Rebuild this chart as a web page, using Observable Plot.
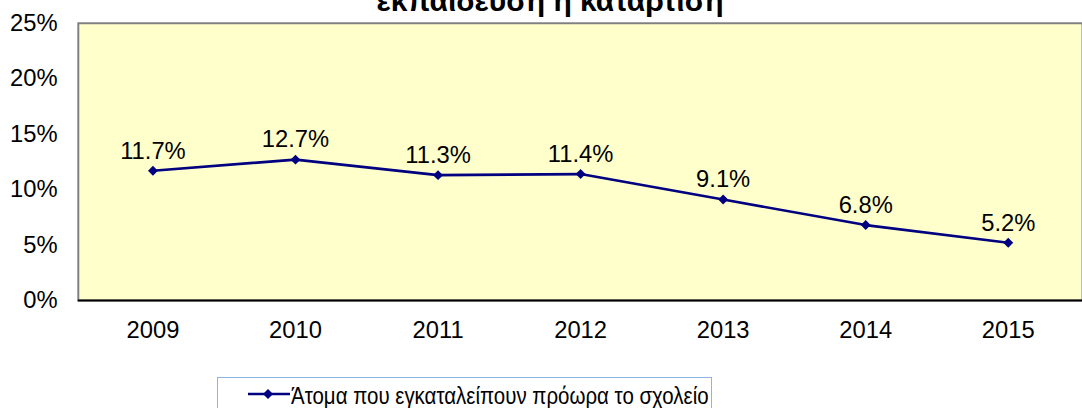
<!DOCTYPE html>
<html>
<head>
<meta charset="utf-8">
<script src="https://cdn.jsdelivr.net/npm/d3@7"></script>
<script src="https://cdn.jsdelivr.net/npm/@observablehq/plot@0.6"></script>
<style>
  html, body { margin: 0; padding: 0; background: #fff; }
  #wrap { position: relative; width: 1082px; height: 408px; overflow: hidden; font-family: "Liberation Sans", Arial, sans-serif; }
  #title { position: absolute; left: 0; width: 1100px; top: -16px; text-align: center; font-weight: bold; font-size: 30px; line-height: 34px; color: #000; font-family: "Liberation Sans", Arial, sans-serif; }
  #chart { position: absolute; left: 0; top: 0; }
  #legend { position: absolute; left: 217px; top: 377px; width: 495px; height: 44px; border: 1px solid #8EB4E3; background: #fff; box-sizing: border-box; }
  #legend svg { position: absolute; left: 29px; top: 6px; }
  #legend span { position: absolute; left: 73px; top: 5px; font-size: 23px; color: #000; white-space: nowrap; transform: scaleX(0.89); transform-origin: 0 0; }
</style>
</head>
<body>
<div id="wrap">
  <div id="chart"></div>
  <div id="title">εκπαίδευση ή κατάρτιση</div>
  <div id="legend">
    <svg width="44" height="20"><line x1="1" y1="10" x2="43" y2="10" stroke="#000080" stroke-width="2.5"/><path d="M21,5 L26,10 L21,15 L16,10 Z" fill="#000080"/></svg>
    <span>Άτομα που εγκαταλείπουν πρόωρα το σχολείο</span>
  </div>
</div>
<script>
const years = ["2009", "2010", "2011", "2012", "2013", "2014", "2015"];
const values = [11.7, 12.7, 11.3, 11.4, 9.1, 6.8, 5.2];
const yTicks = [0, 5, 10, 15, 20, 25];
const seriesName = "Άτομα που εγκαταλείπουν πρόωρα το σχολείο";

const data = years.map((y, i) => ({year: y, value: values[i]}));

const chart = Plot.plot({
  width: 1093,
  height: 360,
  marginTop: 23,
  marginBottom: 57,
  marginLeft: 78.6,
  marginRight: 0,
  style: {fontFamily: "Liberation Sans, Arial, sans-serif", fontSize: "24px", background: "transparent", overflow: "visible"},
  x: {type: "band", domain: years, padding: 0, label: null, tickSize: 0, tickPadding: 21},
  y: {domain: [0, 25], ticks: yTicks, tickFormat: d => d + "%", label: null, tickSize: 0, tickPadding: 21},
  marks: [
    Plot.frame({fill: "#FFFFCC", stroke: "#808080", strokeWidth: 2}),
    Plot.ruleY([0], {stroke: "#000", strokeWidth: 2}),
    Plot.line(data, {x: "year", y: "value", stroke: "#000080", strokeWidth: 2.7}),
    Plot.dot(data, {x: "year", y: "value", symbol: "diamond2", r: 4.5, fill: "#000080", stroke: "none"}),
    Plot.text(data, {x: "year", y: "value", text: d => d.value.toFixed(1) + "%", dy: -20, fill: "#000", fontSize: 24})
  ]
});
document.getElementById("chart").appendChild(chart);
</script>
</body>
</html>
